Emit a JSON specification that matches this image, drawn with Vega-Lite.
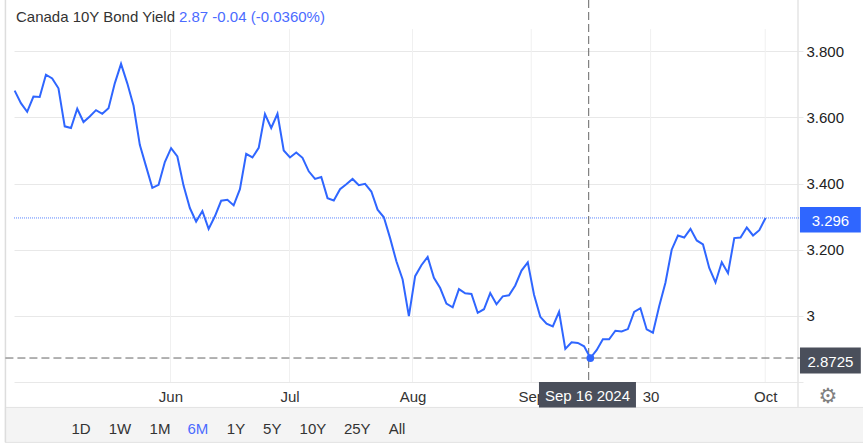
{"$schema":"https://vega.github.io/schema/vega-lite/v6.json","width":784,"height":382,"autosize":{"type":"none"},"padding":{"left":14,"top":0,"right":65,"bottom":64},"background":"#ffffff","config":{"view":{"stroke":null},"text":{"font":"Liberation Sans"}},
"datasets":{"one":[{}],"ticks":[{"date":"2024-06-02T16:00"},{"date":"2024-07-02T19:00"},{"date":"2024-08-02T22:00"},{"date":"2024-09-01T23:00"},{"date":"2024-10-02T04:00"},{"date":"2024-10-31T04:00"}],
"yields":[{"date":"2024-04-24T06:00","yield":3.681},{"date":"2024-04-25T20:00","yield":3.643},{"date":"2024-04-27T10:00","yield":3.617},{"date":"2024-04-29T00:00","yield":3.663},{"date":"2024-04-30T14:00","yield":3.662},{"date":"2024-05-02T04:00","yield":3.729},{"date":"2024-05-03T18:00","yield":3.718},{"date":"2024-05-05T08:00","yield":3.688},{"date":"2024-05-06T22:00","yield":3.573},{"date":"2024-05-08T12:00","yield":3.568},{"date":"2024-05-10T02:00","yield":3.626},{"date":"2024-05-11T16:00","yield":3.586},{"date":"2024-05-13T06:00","yield":3.603},{"date":"2024-05-14T20:00","yield":3.622},{"date":"2024-05-16T10:00","yield":3.611},{"date":"2024-05-18T00:00","yield":3.628},{"date":"2024-05-19T14:00","yield":3.703},{"date":"2024-05-21T04:00","yield":3.762},{"date":"2024-05-22T18:00","yield":3.703},{"date":"2024-05-24T08:00","yield":3.635},{"date":"2024-05-25T22:00","yield":3.517},{"date":"2024-05-27T12:00","yield":3.452},{"date":"2024-05-29T02:00","yield":3.387},{"date":"2024-05-30T16:00","yield":3.396},{"date":"2024-06-01T06:00","yield":3.465},{"date":"2024-06-02T20:00","yield":3.507},{"date":"2024-06-04T10:00","yield":3.482},{"date":"2024-06-06T00:00","yield":3.393},{"date":"2024-06-07T14:00","yield":3.326},{"date":"2024-06-09T04:00","yield":3.285},{"date":"2024-06-10T18:00","yield":3.317},{"date":"2024-06-12T08:00","yield":3.263},{"date":"2024-06-13T22:00","yield":3.301},{"date":"2024-06-15T12:00","yield":3.348},{"date":"2024-06-17T02:00","yield":3.351},{"date":"2024-06-18T16:00","yield":3.334},{"date":"2024-06-20T06:00","yield":3.383},{"date":"2024-06-21T20:00","yield":3.49},{"date":"2024-06-23T10:00","yield":3.479},{"date":"2024-06-25T00:00","yield":3.508},{"date":"2024-06-26T14:00","yield":3.61},{"date":"2024-06-28T04:00","yield":3.568},{"date":"2024-06-29T18:00","yield":3.611},{"date":"2024-07-01T08:00","yield":3.5},{"date":"2024-07-02T22:00","yield":3.479},{"date":"2024-07-04T12:00","yield":3.494},{"date":"2024-07-06T02:00","yield":3.478},{"date":"2024-07-07T16:00","yield":3.437},{"date":"2024-07-09T06:00","yield":3.414},{"date":"2024-07-10T20:00","yield":3.42},{"date":"2024-07-12T10:00","yield":3.356},{"date":"2024-07-14T00:00","yield":3.349},{"date":"2024-07-15T14:00","yield":3.383},{"date":"2024-07-17T04:00","yield":3.398},{"date":"2024-07-18T18:00","yield":3.414},{"date":"2024-07-20T08:00","yield":3.395},{"date":"2024-07-21T22:00","yield":3.399},{"date":"2024-07-23T12:00","yield":3.376},{"date":"2024-07-25T02:00","yield":3.321},{"date":"2024-07-26T16:00","yield":3.298},{"date":"2024-07-28T06:00","yield":3.235},{"date":"2024-07-29T20:00","yield":3.165},{"date":"2024-07-31T10:00","yield":3.11},{"date":"2024-08-02T00:00","yield":2.999},{"date":"2024-08-03T14:00","yield":3.12},{"date":"2024-08-05T04:00","yield":3.153},{"date":"2024-08-06T18:00","yield":3.178},{"date":"2024-08-08T08:00","yield":3.115},{"date":"2024-08-09T22:00","yield":3.084},{"date":"2024-08-11T12:00","yield":3.037},{"date":"2024-08-13T02:00","yield":3.026},{"date":"2024-08-14T16:00","yield":3.081},{"date":"2024-08-16T06:00","yield":3.068},{"date":"2024-08-17T20:00","yield":3.066},{"date":"2024-08-19T10:00","yield":3.009},{"date":"2024-08-21T00:00","yield":3.02},{"date":"2024-08-22T14:00","yield":3.069},{"date":"2024-08-24T04:00","yield":3.035},{"date":"2024-08-25T18:00","yield":3.059},{"date":"2024-08-27T08:00","yield":3.062},{"date":"2024-08-28T22:00","yield":3.092},{"date":"2024-08-30T12:00","yield":3.137},{"date":"2024-09-01T02:00","yield":3.162},{"date":"2024-09-02T16:00","yield":3.064},{"date":"2024-09-04T06:00","yield":2.997},{"date":"2024-09-05T20:00","yield":2.976},{"date":"2024-09-07T10:00","yield":2.968},{"date":"2024-09-09T00:00","yield":3.012},{"date":"2024-09-10T14:00","yield":2.9},{"date":"2024-09-12T04:00","yield":2.92},{"date":"2024-09-13T18:00","yield":2.918},{"date":"2024-09-15T08:00","yield":2.908},{"date":"2024-09-16T22:00","yield":2.8725},{"date":"2024-09-18T12:00","yield":2.896},{"date":"2024-09-20T02:00","yield":2.929},{"date":"2024-09-21T16:00","yield":2.929},{"date":"2024-09-23T06:00","yield":2.955},{"date":"2024-09-24T20:00","yield":2.953},{"date":"2024-09-26T10:00","yield":2.96},{"date":"2024-09-28T00:00","yield":3.012},{"date":"2024-09-29T14:00","yield":3.023},{"date":"2024-10-01T04:00","yield":2.959},{"date":"2024-10-02T18:00","yield":2.949},{"date":"2024-10-04T08:00","yield":3.029},{"date":"2024-10-05T22:00","yield":3.1},{"date":"2024-10-07T12:00","yield":3.2},{"date":"2024-10-09T02:00","yield":3.243},{"date":"2024-10-10T16:00","yield":3.237},{"date":"2024-10-12T06:00","yield":3.263},{"date":"2024-10-13T20:00","yield":3.228},{"date":"2024-10-15T10:00","yield":3.216},{"date":"2024-10-17T00:00","yield":3.145},{"date":"2024-10-18T14:00","yield":3.101},{"date":"2024-10-20T04:00","yield":3.162},{"date":"2024-10-21T18:00","yield":3.129},{"date":"2024-10-23T08:00","yield":3.235},{"date":"2024-10-24T22:00","yield":3.237},{"date":"2024-10-26T12:00","yield":3.267},{"date":"2024-10-28T02:00","yield":3.243},{"date":"2024-10-29T16:00","yield":3.259},{"date":"2024-10-31T06:00","yield":3.296}]},
"layer":[
{"data":{"name":"yields"},"mark":{"type":"line","opacity":0},"encoding":{"x":{"field":"date","type":"temporal","title":null,"scale":{"domain":[{"year":2024,"month":4,"date":24,"hours":2},{"year":2024,"month":11,"date":8,"hours":11}],"nice":false},"axis":{"values":[{"year":2024,"month":6,"date":2,"hours":16},{"year":2024,"month":7,"date":2,"hours":19},{"year":2024,"month":8,"date":2,"hours":22},{"year":2024,"month":9,"date":1,"hours":23},{"year":2024,"month":10,"date":2,"hours":4},{"year":2024,"month":10,"date":31,"hours":4}],"grid":false,"domain":false,"ticks":false,"labelOverlap":false,"labelFlush":false,"labelFont":"Liberation Sans","labelFontSize":15,"labelColor":"#333333","labelPadding":7,"labelExpr":"({'06-02':'Jun','07-02':'Jul','08-02':'Aug','09-01':'Sep','10-02':'30','10-31':'Oct'})[timeFormat(datum.value,'%m-%d')]"}},"y":{"field":"yield","type":"quantitative","title":null,"scale":{"domain":[2.8,3.955],"nice":false,"zero":false},"axis":{"orient":"right","values":[2.8,3,3.2,3.4,3.6,3.8],"grid":true,"gridColor":"#e8e8e8","gridWidth":1,"domain":false,"ticks":true,"tickSize":5,"tickColor":"#e8e8e8","labelOverlap":false,"labelFont":"Liberation Sans","labelFontSize":15,"labelColor":"#222222","labelPadding":3,"labelFlush":false,"labelExpr":"datum.value==2.8?'':datum.value==3?'3':format(datum.value,'.3f')"}}}},
{"data":{"name":"one"},"mark":{"type":"rect","fill":"#f4f4f4","stroke":"#e2e2e2","strokeWidth":1},"encoding":{"x":{"datum":{"year":2024,"month":4,"date":21,"hours":22},"type":"temporal"},"x2":{"datum":{"year":2024,"month":11,"date":25,"hours":6}},"y":{"datum":2.7231,"type":"quantitative"},"y2":{"datum":2.6174}}},
{"data":{"name":"ticks"},"mark":{"type":"rule","color":"#f0f0f0","strokeWidth":1},"encoding":{"x":{"field":"date","type":"temporal"},"y":{"datum":2.8,"type":"quantitative"},"y2":{"datum":3.867}}},
{"data":{"name":"one"},"mark":{"type":"rule","color":"#dddddd","strokeWidth":1.5},"encoding":{"x":{"datum":{"year":2024,"month":4,"date":21,"hours":22},"type":"temporal"},"y":{"datum":3.955,"type":"quantitative"},"y2":{"datum":2.6174}}},
{"data":{"name":"one"},"mark":{"type":"rule","color":"#e4e4e4","strokeWidth":1.5},"encoding":{"x":{"datum":{"year":2024,"month":11,"date":8,"hours":11},"type":"temporal"},"y":{"datum":3.955,"type":"quantitative"},"y2":{"datum":2.7231}}},
{"data":{"name":"one"},"mark":{"type":"rule","color":"#5b86ff","strokeWidth":1,"strokeDash":[1,1]},"encoding":{"x":{"datum":{"year":2024,"month":4,"date":24,"hours":2},"type":"temporal"},"x2":{"datum":{"year":2024,"month":11,"date":8,"hours":23}},"y":{"datum":3.296,"type":"quantitative"}}},
{"data":{"name":"one"},"mark":{"type":"rule","color":"#666666","strokeWidth":1,"strokeDash":[8,4]},"encoding":{"x":{"datum":{"year":2024,"month":4,"date":21,"hours":22},"type":"temporal"},"x2":{"datum":{"year":2024,"month":11,"date":8,"hours":23}},"y":{"datum":2.8725,"type":"quantitative"}}},
{"data":{"name":"one"},"mark":{"type":"rule","color":"#666666","strokeWidth":1,"strokeDash":[8,4]},"encoding":{"x":{"datum":{"year":2024,"month":9,"date":16,"hours":12},"type":"temporal"},"y":{"datum":3.955,"type":"quantitative"},"y2":{"datum":2.8}}},
{"data":{"name":"yields"},"mark":{"type":"line","color":"#2f66ff","strokeWidth":2,"clip":false},"encoding":{"x":{"field":"date","type":"temporal"},"y":{"field":"yield","type":"quantitative"}}},
{"data":{"values":[{"date":"2024-09-16T22:00","yield":2.8725}]},"mark":{"type":"point","filled":true,"color":"#2f66ff","opacity":1,"size":60},"encoding":{"x":{"field":"date","type":"temporal"},"y":{"field":"yield","type":"quantitative"}}},
{"data":{"name":"one"},"mark":{"type":"rect","fill":"#2f66ff"},"encoding":{"x":{"datum":{"year":2024,"month":11,"date":8,"hours":23},"type":"temporal"},"x2":{"datum":{"year":2024,"month":11,"date":24,"hours":8,"minutes":30}},"y":{"datum":3.329,"type":"quantitative"},"y2":{"datum":3.2524}}},
{"data":{"name":"one"},"mark":{"type":"rect","fill":"#4a4f5b"},"encoding":{"x":{"datum":{"year":2024,"month":11,"date":8,"hours":23},"type":"temporal"},"x2":{"datum":{"year":2024,"month":11,"date":24,"hours":8,"minutes":30}},"y":{"datum":2.9043,"type":"quantitative"},"y2":{"datum":2.8258}}},
{"data":{"name":"one"},"mark":{"type":"rect","fill":"#4a4f5b"},"encoding":{"x":{"datum":{"year":2024,"month":9,"date":3,"hours":22},"type":"temporal"},"x2":{"datum":{"year":2024,"month":9,"date":28,"hours":11}},"y":{"datum":2.8,"type":"quantitative"},"y2":{"datum":2.7231}}},
{"data":{"values":[{"label":"3.296"}]},"mark":{"type":"text","color":"#ffffff","fontSize":15,"align":"center","baseline":"middle"},"encoding":{"x":{"datum":{"year":2024,"month":11,"date":16,"hours":16},"type":"temporal"},"y":{"datum":3.2865,"type":"quantitative"},"text":{"field":"label"}}},
{"data":{"values":[{"label":"2.8725"}]},"mark":{"type":"text","color":"#ffffff","fontSize":15,"align":"center","baseline":"middle"},"encoding":{"x":{"datum":{"year":2024,"month":11,"date":16,"hours":16},"type":"temporal"},"y":{"datum":2.861,"type":"quantitative"},"text":{"field":"label"}}},
{"data":{"values":[{"label":"Sep 16 2024"}]},"mark":{"type":"text","color":"#ffffff","fontSize":15,"align":"center","baseline":"middle"},"encoding":{"x":{"datum":{"year":2024,"month":9,"date":16,"hours":4,"minutes":30},"type":"temporal"},"y":{"datum":2.757,"type":"quantitative"},"text":{"field":"label"}}},
{"data":{"values":[{"label":"Canada 10Y Bond Yield"}]},"mark":{"type":"text","color":"#333333","fontSize":15,"align":"left","baseline":"middle"},"encoding":{"x":{"datum":{"year":2024,"month":4,"date":24,"hours":14},"type":"temporal"},"y":{"datum":3.904,"type":"quantitative"},"text":{"field":"label"}}},
{"data":{"values":[{"label":"2.87  -0.04 (-0.0360%)"}]},"mark":{"type":"text","color":"#4b6bff","fontSize":15,"align":"left","baseline":"middle"},"encoding":{"x":{"datum":{"year":2024,"month":6,"date":4,"hours":20},"type":"temporal"},"y":{"datum":3.904,"type":"quantitative"},"text":{"field":"label"}}},
{"data":{"values":[{"label":"1D"}]},"mark":{"type":"text","color":"#333333","fontSize":15,"align":"center","baseline":"middle"},"encoding":{"x":{"datum":{"year":2024,"month":5,"date":11,"hours":0,"minutes":42},"type":"temporal"},"y":{"datum":2.658,"type":"quantitative"},"text":{"field":"label"}}},
{"data":{"values":[{"label":"1W"}]},"mark":{"type":"text","color":"#333333","fontSize":15,"align":"center","baseline":"middle"},"encoding":{"x":{"datum":{"year":2024,"month":5,"date":20,"hours":21,"minutes":24},"type":"temporal"},"y":{"datum":2.658,"type":"quantitative"},"text":{"field":"label"}}},
{"data":{"values":[{"label":"1M"}]},"mark":{"type":"text","color":"#333333","fontSize":15,"align":"center","baseline":"middle"},"encoding":{"x":{"datum":{"year":2024,"month":5,"date":31,"hours":0,"minutes":30},"type":"temporal"},"y":{"datum":2.658,"type":"quantitative"},"text":{"field":"label"}}},
{"data":{"values":[{"label":"6M"}]},"mark":{"type":"text","color":"#4b6bff","fontSize":15,"align":"center","baseline":"middle"},"encoding":{"x":{"datum":{"year":2024,"month":6,"date":9,"hours":15,"minutes":6},"type":"temporal"},"y":{"datum":2.658,"type":"quantitative"},"text":{"field":"label"}}},
{"data":{"values":[{"label":"1Y"}]},"mark":{"type":"text","color":"#333333","fontSize":15,"align":"center","baseline":"middle"},"encoding":{"x":{"datum":{"year":2024,"month":6,"date":19,"hours":6},"type":"temporal"},"y":{"datum":2.658,"type":"quantitative"},"text":{"field":"label"}}},
{"data":{"values":[{"label":"5Y"}]},"mark":{"type":"text","color":"#333333","fontSize":15,"align":"center","baseline":"middle"},"encoding":{"x":{"datum":{"year":2024,"month":6,"date":28,"hours":10,"minutes":18},"type":"temporal"},"y":{"datum":2.658,"type":"quantitative"},"text":{"field":"label"}}},
{"data":{"values":[{"label":"10Y"}]},"mark":{"type":"text","color":"#333333","fontSize":15,"align":"center","baseline":"middle"},"encoding":{"x":{"datum":{"year":2024,"month":7,"date":8,"hours":17,"minutes":30},"type":"temporal"},"y":{"datum":2.658,"type":"quantitative"},"text":{"field":"label"}}},
{"data":{"values":[{"label":"25Y"}]},"mark":{"type":"text","color":"#333333","fontSize":15,"align":"center","baseline":"middle"},"encoding":{"x":{"datum":{"year":2024,"month":7,"date":19,"hours":22,"minutes":36},"type":"temporal"},"y":{"datum":2.658,"type":"quantitative"},"text":{"field":"label"}}},
{"data":{"values":[{"label":"All"}]},"mark":{"type":"text","color":"#333333","fontSize":15,"align":"center","baseline":"middle"},"encoding":{"x":{"datum":{"year":2024,"month":7,"date":29,"hours":23,"minutes":48},"type":"temporal"},"y":{"datum":2.658,"type":"quantitative"},"text":{"field":"label"}}},
{"data":{"values":[{"label":"⚙"}]},"mark":{"type":"text","color":"#808080","fontSize":21,"font":"DejaVu Sans","align":"center","baseline":"middle"},"encoding":{"x":{"datum":{"year":2024,"month":11,"date":16,"hours":1},"type":"temporal"},"y":{"datum":2.7555,"type":"quantitative"},"text":{"field":"label"}}}
]}
